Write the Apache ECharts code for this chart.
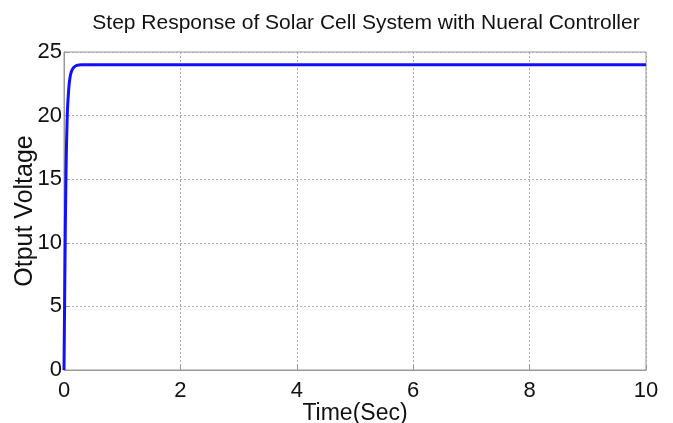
<!DOCTYPE html>
<html>
<head>
<meta charset="utf-8">
<script src="https://cdn.jsdelivr.net/npm/echarts@6/dist/echarts.min.js"></script>
<style>html,body{margin:0;padding:0;background:#fff}#c{width:673px;height:423px}</style>
</head>
<body>
<div id="c"></div>
<script>
const timeSec = [0, 0.005, 0.01, 0.02, 0.03, 0.04, 0.05, 0.06, 0.08, 0.1, 0.13, 0.17, 0.22, 0.3, 0.5, 1, 2, 4, 6, 8, 10];
const outputVoltage = [0, 2.5, 5, 10, 14, 17, 19, 20.5, 22, 22.9, 23.5, 23.8, 23.95, 24, 24, 24, 24, 24, 24, 24, 24];
const xTicks = [0, 2, 4, 6, 8, 10];
const yTicks = [0, 5, 10, 15, 20, 25];

const chart = echarts.init(document.getElementById('c'));
const font = 'Liberation Sans, Arial, sans-serif';
chart.setOption({
  animation: false,
  backgroundColor: '#fff',
  title: {
    text: 'Step Response of Solar Cell System with Nueral Controller',
    left: 361, top: 8, textAlign: 'center',
    textStyle: {fontFamily: font, fontSize: 21, fontWeight: 'normal', color: '#111'}
  },
  grid: {left: 64, right: 27, top: 52, bottom: 53, show: true, borderColor: '#999', borderWidth: 1,
         containLabel: false, outerBoundsMode: 'none'},
  xAxis: {
    type: 'value', min: xTicks[0], max: xTicks[xTicks.length-1], interval: 2,
    name: 'Time(Sec)', nameLocation: 'middle', nameGap: 32, nameMoveOverlap: false,
    nameTextStyle: {fontFamily: font, fontSize: 23, color: '#111'},
    axisLine: {show: true, lineStyle: {color: '#999'}},
    axisTick: {inside: true, length: 5, lineStyle: {color: '#999'}},
    axisLabel: {fontFamily: font, fontSize: 22, color: '#111', margin: 10},
    splitLine: {show: true, lineStyle: {type: [2, 2], color: '#aaa'}}
  },
  yAxis: {
    type: 'value', min: yTicks[0], max: yTicks[yTicks.length-1], interval: 5,
    name: 'Otput Voltage', nameLocation: 'middle', nameGap: 26, nameMoveOverlap: false,
    nameTextStyle: {fontFamily: font, fontSize: 25, color: '#111'},
    axisLine: {show: true, lineStyle: {color: '#999'}},
    axisTick: {inside: true, length: 5, lineStyle: {color: '#999'}},
    axisLabel: {fontFamily: font, fontSize: 22, color: '#111', margin: 2},
    splitLine: {show: true, lineStyle: {type: [2, 2], color: '#aaa'}}
  },
  series: [{
    type: 'line', showSymbol: false, smooth: 0.3,
    data: timeSec.map((t, i) => [t, outputVoltage[i]]),
    lineStyle: {color: '#1010ff', width: 3}
  }]
});
</script>
</body>
</html>
